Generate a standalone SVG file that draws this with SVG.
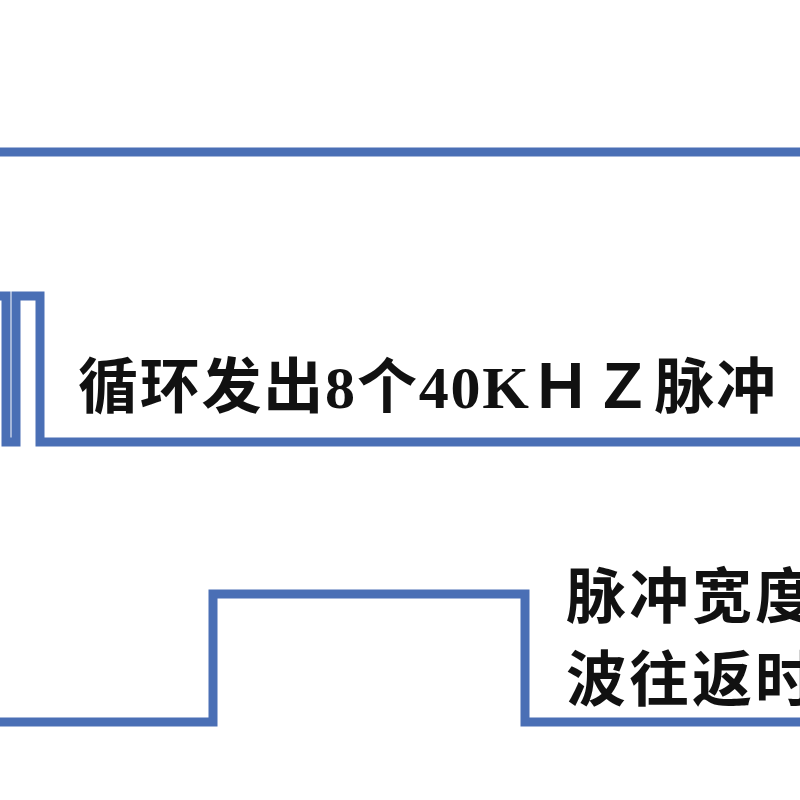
<svg xmlns="http://www.w3.org/2000/svg" width="800" height="800" viewBox="0 0 800 800">
<style>
.wave{fill:none;stroke:#4a6fb5;stroke-width:9;stroke-linejoin:miter;stroke-linecap:butt}
.lbl{font-family:"Liberation Serif","Noto Sans CJK SC",serif;font-size:60px;fill:#111;font-weight:bold}
</style>
<rect width="800" height="800" fill="#fff"/>
<g id="connectors">
<path id="wave-top" class="wave" d="M-10,152 L810,152"/>
<path id="wave-trigger" class="wave" d="M-10,296 L6,296 L6,442 L16,442 L16,296 L40,296 L40,442 L810,442"/>
<path id="wave-echo" class="wave" d="M-10,722 L213,722 L213,594 L525,594 L525,722 L810,722"/>
</g>
<g id="label-pulses">
<text class="lbl" x="78" y="408" textLength="698" lengthAdjust="spacing">循环发出8个40KＨＺ脉冲</text>
</g>
<g id="label-width">
<text class="lbl" x="566" y="618" letter-spacing="3">脉冲宽度</text>
<text class="lbl" x="566" y="701" letter-spacing="3">波往返时</text>
</g>
</svg>
